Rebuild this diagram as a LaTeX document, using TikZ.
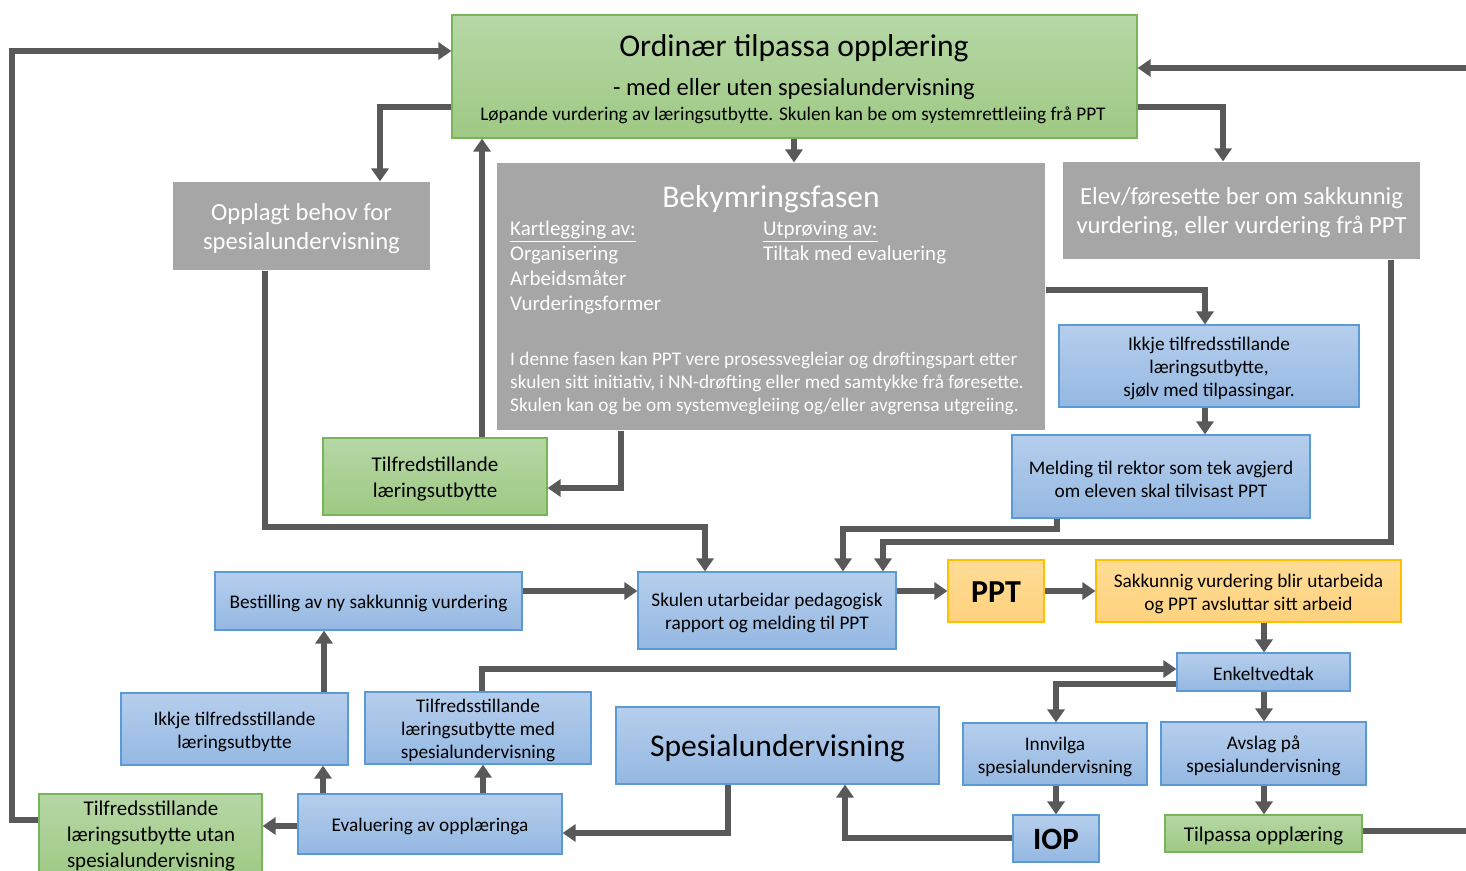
\documentclass[tikz,border=0pt]{standalone}
\usepackage{fontspec}
\setmainfont{Carlito}
\usetikzlibrary{arrows.meta}
\definecolor{arrowc}{RGB}{89,89,89}
\definecolor{gtop}{RGB}{182,215,166}
\definecolor{gbot}{RGB}{158,201,131}
\definecolor{gbrd}{RGB}{120,180,90}
\definecolor{btop}{RGB}{182,206,236}
\definecolor{bbot}{RGB}{148,184,226}
\definecolor{bbrd}{RGB}{91,155,213}
\definecolor{otop}{RGB}{255,220,150}
\definecolor{obot}{RGB}{255,210,125}
\definecolor{obrd}{RGB}{255,192,0}
\definecolor{grayf}{RGB}{166,166,166}
\tikzset{
  box/.style={rectangle, inner sep=0pt, line width=1.2pt},
  greenbox/.style={box, draw=gbrd, top color=gtop, bottom color=gbot},
  bluebox/.style={box, draw=bbrd, top color=btop, bottom color=bbot},
  orangebox/.style={box, draw=obrd, top color=otop, bottom color=obot},
  graybox/.style={box, fill=grayf},
  txt/.style={inner sep=0pt, align=center},
  wtxt/.style={txt, text=white},
  conn/.style={draw=arrowc, line width=6.5pt, -{Triangle[length=13pt,width=17pt]}},
  fs/.style={font=\fontsize{19.3}{23}\selectfont},
  fm/.style={font=\fontsize{21}{26}\selectfont},
  fl/.style={font=\fontsize{24.6}{29}\selectfont},
  plain/.style={inner sep=0pt, align=left, text=white}
}
% \bx[dy]{box style}{text style}{name}{x1}{x2}{y1}{y2}{text}
\newcommand{\bx}[9][2.5]{%
  \node[#2, minimum width=#6-#5, minimum height=#8-#7] (#4) at ({(#5+#6)/2},{(#7+#8)/2}) {};
  \node[#3] (#4t) at ({(#5+#6)/2},{(#7+#8)/2+#1}) {#9};}
\begin{document}
\begin{tikzpicture}[x=1pt,y=-1pt]
\useasboundingbox (0,0) rectangle (1466,870);
% boxes
\node[greenbox, minimum width=685, minimum height=123] (ord) at (794.5,76.5) {};
\node[txt, font=\fontsize{31.6}{31.6}\selectfont] (ordt1) at (794,48) {Ordinær tilpassa opplæring};
\node[txt, font=\fontsize{24.6}{24.6}\selectfont] (ordt2) at (794,89) {- med eller uten spesialundervisning};
\node[txt, font=\fontsize{19.3}{19.3}\selectfont] (ordt3) at (793,115.5) {Løpande vurdering av læringsutbytte. Skulen kan be om systemrettleiing frå PPT};

\bx{graybox}{wtxt,fl}{opp}{173}{430}{182}{270}{Opplagt behov for\\spesialundervisning}
\node[graybox, minimum width=548, minimum height=267] (bek) at (771,296.5) {};
\node[wtxt, font=\fontsize{31.6}{31.6}\selectfont] (bekt) at (771,199) {Bekymringsfasen};
\node[plain, anchor=west, font=\fontsize{21}{25}\selectfont] (bekl) at (510,268) {\underline{Kartlegging av:}\\Organisering\\Arbeidsmåter\\Vurderingsformer};
\node[plain, anchor=north west, font=\fontsize{21}{25}\selectfont] (bekr) at (bekl.north -| 763,0) {\underline{Utprøving av:}\\Tiltak med evaluering};
\node[plain, anchor=west, font=\fontsize{19.3}{23}\selectfont] (bekp) at (510,383) {I denne fasen kan PPT vere prosessvegleiar og drøftingspart etter\\skulen sitt initiativ, i NN-drøfting eller med samtykke frå føresette.\\Skulen kan og be om systemvegleiing og/eller avgrensa utgreiing.};
\bx{graybox}{wtxt,fl}{elev}{1063}{1420}{162}{259}{Elev/føresette ber om sakkunnig\\vurdering, eller vurdering frå PPT}

\bx{bluebox}{txt,fs}{ikkje1}{1059}{1359}{325}{407}{Ikkje tilfredsstillande\\læringsutbytte,\\sjølv med tilpassingar.}
\bx{bluebox}{txt,fs}{meld}{1012}{1310}{435}{518}{Melding til rektor som tek avgjerd\\om eleven skal tilvisast PPT}
\bx{greenbox}{txt,fm}{tilf1}{323}{547}{438}{515}{Tilfredstillande\\læringsutbytte}

\bx{bluebox}{txt,fs}{best}{215}{522}{572}{630}{Bestilling av ny sakkunnig vurdering}
\bx{bluebox}{txt,fs}{skulen}{638}{896}{572}{649}{Skulen utarbeidar pedagogisk\\rapport og melding til PPT}
\bx[1]{orangebox}{txt,font=\fontsize{32}{32}\selectfont\bfseries}{ppt}{948}{1044}{560}{622}{PPT}
\bx{orangebox}{txt,fs}{sak}{1096}{1401}{560}{622}{Sakkunnig vurdering blir utarbeida\\og PPT avsluttar sitt arbeid}
\bx[1.5]{bluebox}{txt,fs}{enk}{1177}{1350}{653}{691}{Enkeltvedtak}

\bx{bluebox}{txt,fs}{ikkje2}{121}{348}{693}{765}{Ikkje tilfredsstillande\\læringsutbytte}
\bx{bluebox}{txt,fs}{tilf2}{365}{591}{692}{764}{Tilfredsstillande\\læringsutbytte med\\spesialundervisning}
\bx{bluebox}{txt,font=\fontsize{31.6}{31.6}\selectfont}{spes}{616}{939}{707}{784}{Spesialundervisning}
\bx{bluebox}{txt,fs}{innv}{963}{1147}{723}{785}{Innvilga\\spesialundervisning}
\bx{bluebox}{txt,fs}{avs}{1161}{1366}{722}{785}{Avslag på\\spesialundervisning}

\bx{bluebox}{txt,fs}{eval}{298}{562}{794}{854}{Evaluering av opplæringa}
\node[greenbox, minimum width=223, minimum height=88] (tilf3) at (150.5,838) {};
\node[txt, font=\fontsize{21}{26}\selectfont] (tilf3t) at (151,836) {Tilfredsstillande\\læringsutbytte utan\\spesialundervisning};
\bx[1]{bluebox}{txt,font=\fontsize{31}{31}\selectfont\bfseries}{iop}{1013}{1099}{815}{862}{IOP}
\bx{greenbox}{txt,fm}{tilp}{1165}{1362}{815}{852}{Tilpassa opplæring}

% connectors
\draw[conn] (tilf3.west |- 0,820) -- (12,820) -- (12,51) -- (ord.west |- 0,51);
\draw[conn] (ord.west |- 0,107) -- (380,107) -- (opp.north -| 380,0);
\draw[conn] (ord.south -| 794,0) -- (bek.north -| 794,0);
\draw[conn] (ord.east |- 0,107) -| (elev.north -| 1223,0);
\draw[conn] (tilp.east |- 0,831) -- (1490,831) -- (1490,68) -- (ord.east |- 0,68);
\draw[conn] (tilf1.north -| 482,0) -- (ord.south -| 482,0);
\draw[conn] (bek.south -| 621,0) |- (tilf1.east |- 0,488);
\draw[conn] (opp.south -| 265,0) -- (265,527) -| (skulen.north -| 705,0);
\draw[conn] (bek.east |- 0,290) -| (ikkje1.north -| 1205,0);
\draw[conn] (ikkje1.south -| 1205,0) -- (meld.north -| 1205,0);
\draw[conn] (meld.south -| 1057,0) -- (1057,529) -| (skulen.north -| 843,0);
\draw[conn] (elev.south -| 1391,0) -- (1391,542) -| (skulen.north -| 883,0);
\draw[conn] (best.east |- 0,591) -- (skulen.west |- 0,591);
\draw[conn] (skulen.east |- 0,591) -- (ppt.west |- 0,591);
\draw[conn] (ppt.east |- 0,591) -- (sak.west |- 0,591);
\draw[conn] (sak.south -| 1264,0) -- (enk.north -| 1264,0);
\draw[conn] (tilf2.north -| 482,0) |- (enk.west |- 0,669);
\draw[conn] (enk.west |- 0,684) -| (innv.north -| 1056,0);
\draw[conn] (enk.south -| 1264,0) -- (avs.north -| 1264,0);
\draw[conn] (innv.south -| 1056,0) -- (iop.north -| 1056,0);
\draw[conn] (avs.south -| 1264,0) -- (tilp.north -| 1264,0);
\draw[conn] (iop.west |- 0,838) -| (spes.south -| 845,0);
\draw[conn] (spes.south -| 728,0) |- (eval.east |- 0,833);
\draw[conn] (eval.west |- 0,826) -- (tilf3.east |- 0,826);
\draw[conn] (eval.north -| 323,0) -- (ikkje2.south -| 323,0);
\draw[conn] (eval.north -| 483,0) -- (tilf2.south -| 483,0);
\draw[conn] (ikkje2.north -| 324,0) -- (best.south -| 324,0);
\end{tikzpicture}
\end{document}
